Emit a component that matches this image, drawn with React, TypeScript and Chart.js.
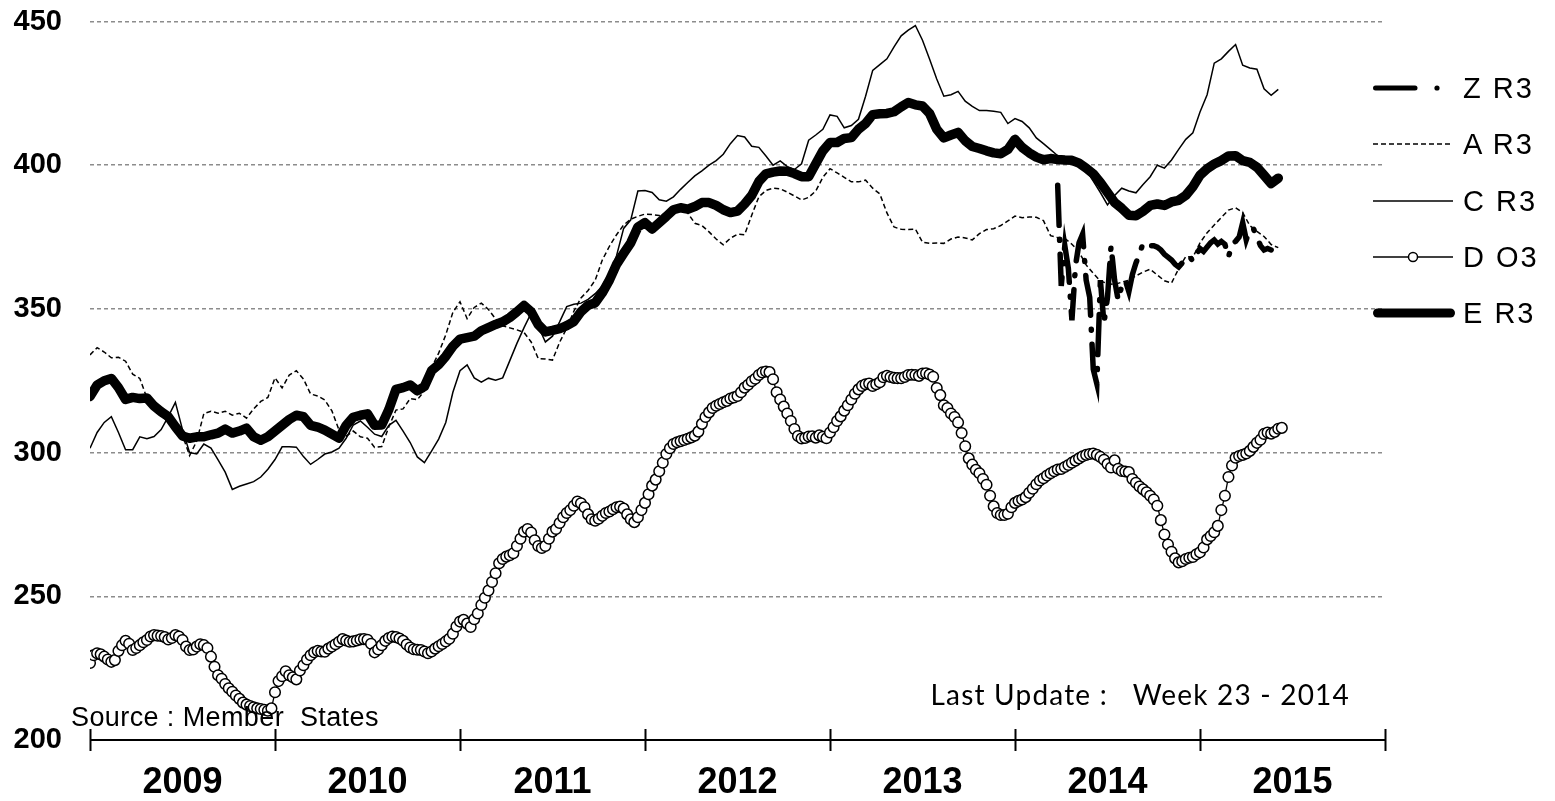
import React, { useEffect, useRef } from 'react';
import { Chart, registerables } from 'chart.js';

Chart.register(...registerables);

// ---------- data ----------
const YEAR_LABELS = ['2009', '2010', '2011', '2012', '2013', '2014', '2015'];
const WEEKS_PER_YEAR = 52;
const Y_TICKS = [200, 250, 300, 350, 400, 450];
const LINE_STEP_WEEKS = 2; // E R3, C R3, A R3 sampled every 2 weeks
const Z_START_WEEK = 272;

const E_R3 = [
  319.5, 323.5, 325, 325.8, 322.6, 318.5, 319.2, 318.8, 319, 316.2, 314.2, 312.5,
  309, 305.8, 305, 305.5, 305.5, 306.2, 306.8, 308.2, 306.8, 307.5, 308.5, 305.5,
  304.3, 305.5, 307.5, 309.5, 311.5, 313, 312.5, 309.5, 308.9, 307.8, 306.4, 305,
  309.5, 312.3, 313, 313.5, 309.5, 309.6, 315, 322, 322.6, 323.5, 321.5, 323,
  328.5, 330.6, 333.5, 337, 339.5, 340, 340.5, 342.4, 343.5, 344.6, 345.5, 347,
  349, 351.2, 349, 344.5, 342, 342.5, 343.1, 344.2, 345.6, 349, 351.3, 352.1,
  355.6, 360, 365.5, 369.3, 373, 378.5, 380, 377.8, 380, 382.2, 384.5, 385.2,
  384.7, 385.6, 387, 387, 386, 384.5, 383.5, 384, 386.5, 389.5, 394.3, 397,
  397.6, 398, 397.9, 397.1, 396, 396, 400.5, 405, 407.9, 407.9, 409.3, 409.6,
  412.5, 414.5, 417.6, 417.9, 418, 418.6, 420.3, 421.8, 421, 420.6, 418, 412.5,
  409.5, 410.5, 411.4, 408.5, 406.5, 405.8, 405, 404.3, 404, 405.5, 409, 406.2,
  404.3, 402.8, 401.9, 402.3, 402, 401.8, 401.7, 400.7, 399, 397, 394, 390.5,
  387, 385, 382.6, 382.4, 384, 386, 386.5, 386, 387.2, 387.8, 389.5, 392.5,
  396.5, 398.8, 400.4, 401.6, 403.2, 403.3, 401.6, 401, 399.3, 396.5, 393.6, 395.5,
];

const C_R3 = [
  301.5, 307, 310.5, 312.5, 307, 301, 301, 305.5, 304.8, 305.6, 308, 312.5,
  317.5, 308, 300, 299.5, 303, 301.6, 297.5, 293.2, 287.2, 288.3, 289.1, 289.9,
  291.5, 294.2, 297.6, 302, 302, 301.9, 298.6, 295.9, 297.6, 299.5, 300.2, 301.5,
  305, 309.6, 311, 308.8, 306.4, 305.6, 309.5, 311.2, 307.5, 303.5, 298.5, 296.5,
  300.5, 304.7, 310.5, 321, 328.5, 330.5, 326, 324.5, 325.9, 325.2, 326, 332,
  338, 343.5, 348.5, 344, 338.5, 340.5, 345.5, 350.8, 351.6, 352, 353.3, 355.3,
  358, 362.5, 368.5, 378, 381, 391, 391.2, 390.5, 388, 387.5, 389, 391.6,
  394, 396.3, 398, 400, 401.6, 403.8, 407.5, 410.3, 409.8, 406.6, 406.2, 403.2,
  400, 401.5, 399.5, 398.5, 400.5, 408.7, 410.5, 412.5, 417.5, 417, 413, 413.8,
  416, 424, 433, 435, 437, 441.2, 445, 447, 448.6, 443.5, 436.9, 430,
  424, 424.5, 425.7, 422.3, 420.5, 419, 419, 418.8, 418.4, 414.5, 416.2, 415.2,
  413, 409.5, 407.5, 405.4, 403.3, 402, 401.8, 400, 398.3, 394.5, 390.5, 386.2,
  389.5, 392, 391, 390.4, 393.3, 396, 400, 399, 401.8, 405.5, 409, 411.3,
  418.5, 424.5, 435.5, 437, 439.6, 442, 434.8, 433.8, 433.4, 426.6, 424.3, 426.4,
];

const A_R3 = [
  334, 336.5, 335, 333, 333.2, 331.8, 327.3, 325.8, 319, 316.8, 313.3, 310.4,
  309.5, 306, 299, 304, 313.6, 314.4, 313.7, 314.4, 313, 313.7, 312, 315.2,
  317.8, 319.2, 326, 322.5, 327, 328.5, 325.6, 320.4, 319.7, 318.3, 314.5, 307.8,
  305.7, 307.5, 305.5, 305, 301.8, 302.1, 309, 314.8, 315.2, 318.8, 318.4, 321.5,
  329.5, 334.6, 341, 348.8, 352.5, 346.6, 350.5, 352, 349.8, 346.5, 344.1, 343.4,
  342.7, 341.8, 338.5, 332.7, 332.6, 332.2, 338.4, 343.3, 349.2, 353.8, 356.4, 360,
  367, 371.8, 375.8, 379.2, 381.2, 382.2, 383, 382.8, 382.5, 382, 383.4, 384.6,
  383.4, 379.8, 379, 376.8, 374.3, 372.3, 374.6, 376, 375.8, 382.6, 389, 391.2,
  392, 391.8, 390.6, 389.3, 387.9, 388.8, 391, 395.8, 398.8, 397.3, 395.8, 394.2,
  394.2, 394.8, 392, 390, 383.4, 378.5, 377.7, 377.6, 377.8, 373.2, 372.8, 372.9,
  372.8, 374.3, 375, 374.7, 374, 376.2, 377.6, 377.9, 379, 380.6, 382.3, 381.7,
  382, 381.9, 380.7, 375.5, 374.8, 374.5, 372.5, 369.8, 365.3, 362.4, 359.7, 358.8,
  358.5, 359.3, 360, 361.5, 362.8, 363.8, 361.8, 359.8, 359, 364, 368.2, 368,
  373, 376.5, 379.2, 381.8, 384.4, 385.2, 383.5, 379, 377, 375.2, 372.4, 371.3,
];

// weekly values
const D_O3 = [
  226.8, 229.5, 230.2, 229.8, 229, 228, 227.2, 227.8, 231, 233, 234.5, 233.5, 231.3,
  232, 233, 234, 234.8, 236, 236.5, 236.3, 236.2, 235.8, 235, 235.5, 236.5, 236,
  234.8, 232.5, 231.3, 231.5, 232.5, 233.3, 233, 232, 229, 225.5, 222.5, 221.3, 219.5,
  218, 216.8, 215.5, 214.3, 213, 212.3, 211.8, 211.4, 211, 210.8, 210.5, 210.2, 211,
  216.6, 220.5, 222.2, 223.9, 222.5, 221.8, 221.1, 224.2, 226, 228, 229.5, 230.5, 231,
  230.8, 230.7, 231.8, 232.5, 233.3, 234.2, 235.1, 234.6, 234.2, 234.3, 234.6, 235, 235.1,
  234.9, 233.5, 230.5, 231.5, 233, 234.5, 235.5, 236, 235.8, 235.3, 234.5, 233.2, 232.2,
  231.6, 231.4, 231.3, 230.8, 230.2, 230.8, 231.8, 232.6, 233.4, 234.3, 235.2, 237, 239.5,
  241.2, 241.8, 240.5, 239.3, 242, 244, 247, 249.5, 252, 255, 258, 261.5, 263,
  263.8, 264.3, 265, 267.5, 270, 272.5, 273.4, 272.2, 269.5, 267.5, 266.8, 267.5, 270,
  272.5, 273.4, 275.5, 277.5, 279, 280, 281.5, 283, 282.4, 281, 278.5, 276.8, 276.3,
  277, 278, 279, 279.5, 280.3, 281, 281.2, 280.5, 278.5, 276.8, 275.8, 277.5, 280,
  282.5, 285.5, 288.5, 290.6, 293.5, 296.5, 299.5, 301.5, 303, 303.6, 304, 304.4, 304.8,
  305.3, 305.9, 307.3, 310, 312.4, 314, 315.5, 316.3, 316.9, 317.5, 318, 318.8, 319.2,
  319.7, 321, 322.6, 323.6, 324.8, 325.7, 327, 327.9, 328.2, 328, 325.5, 321, 318.5,
  316, 313.6, 311, 308.2, 305.8, 304.9, 305.1, 305.6, 305.7, 305.2, 306, 305.5, 305,
  307, 308.8, 311, 312.6, 314.6, 316.5, 318.5, 320.5, 322, 323.2, 323.8, 324, 323.2,
  323.8, 324.5, 326.2, 326.7, 326.3, 326, 325.9, 325.9, 326.3, 327, 327.1, 327, 326.7,
  327.5, 327.6, 327.2, 326.4, 322.5, 320, 316.5, 315.5, 313.6, 312.4, 310.5, 306.8, 302.2,
  298, 295.8, 294, 292.8, 290.8, 288.8, 285, 281.3, 279, 278.3, 278.3, 278.7, 281,
  282.5, 283.2, 283.7, 284.5, 286, 287.4, 289, 290.3, 291.1, 292, 292.8, 293.5, 294.1,
  294.3, 295, 295.7, 296.5, 297.2, 298, 298.7, 299.2, 299.5, 299.7, 299.2, 298.5, 297.5,
  296, 294.8, 297.3, 294.4, 293.6, 293.4, 293.2, 290.8, 289.5, 288.2, 287.2, 286.2, 285,
  283.7, 281.5, 276.5, 271.5, 268, 265.5, 263.2, 261.8, 262.2, 263, 263.4, 263.7, 264.6,
  265.3, 267, 269.8, 271, 272.3, 274.5, 280, 285, 291.5, 295.5, 298.2, 298.8, 299.2,
  299.7, 300.6, 302, 303.4, 304.5, 306.5, 307, 306.6, 307.2, 308.3, 308.6,
];

// weekly values starting at Z_START_WEEK
const Z_R3 = [
  393, 358, 372, 364, 346, 365, 373, 376, 360, 354, 329, 324, 360, 345, 354, 372,
  360, 353, 358, 360, 356, 362, 366, 369, 373, 373, 372, 372, 371.5, 370.5, 369, 368,
  367, 365.5, 364.6, 366, 367.4, 368.5, 366.5, 369, 371, 370, 371.5, 373, 374, 372.6,
  373.5, 372.5, 368, 372.6, 373.5, 375, 380, 374, 377.5, 378, 375, 372, 370.5, 371, 370.5,
];

const SOURCE_NOTE = 'Source : Member  States';
const UPDATE_NOTE = 'Last Update :   Week 23 - 2014';

// ---------- helpers ----------
const FONT = '"Liberation Sans", Arial, Helvetica, sans-serif';

function toPoints(values: number[], step: number, start = 0) {
  return values.map((v, i) => ({ x: start + i * step, y: v }));
}

const yearAxisPlugin = {
  id: 'yearAxis',
  afterDraw(chart: any) {
    const { ctx } = chart;
    const xs = chart.scales.x;
    const ys = chart.scales.y;
    const y0 = ys.getPixelForValue(Y_TICKS[0]);
    const totalWeeks = YEAR_LABELS.length * WEEKS_PER_YEAR;
    ctx.save();
    ctx.strokeStyle = '#000';
    ctx.lineWidth = 2;
    ctx.beginPath();
    ctx.moveTo(xs.getPixelForValue(0), y0);
    ctx.lineTo(xs.getPixelForValue(totalWeeks), y0);
    for (let i = 0; i <= YEAR_LABELS.length; i++) {
      const px = Math.round(xs.getPixelForValue(i * WEEKS_PER_YEAR)) + 0.5;
      ctx.moveTo(px, y0 - 11);
      ctx.lineTo(px, y0 + 11);
    }
    ctx.stroke();
    ctx.restore();
  },
};

type LegendKind = 'dashdot' | 'dashed' | 'solid' | 'marker' | 'thick';
const LEGEND_ITEMS: { label: string; kind: LegendKind; y: number }[] = [
  { label: 'Z R3', kind: 'dashdot', y: 88 },
  { label: 'A R3', kind: 'dashed', y: 144 },
  { label: 'C R3', kind: 'solid', y: 201 },
  { label: 'D O3', kind: 'marker', y: 257 },
  { label: 'E R3', kind: 'thick', y: 313 },
];

function LegendSample({ kind }: { kind: LegendKind }) {
  return (
    <svg width={82} height={20} style={{ display: 'block', overflow: 'visible' }}>
      {kind === 'dashdot' && (
        <g>
          <line x1={2.5} y1={10} x2={42} y2={10} stroke="#000" strokeWidth={5} strokeLinecap="round" />
          <circle cx={64} cy={10} r={2.6} fill="#000" />
        </g>
      )}
      {kind === 'dashed' && (
        <line x1={0} y1={10} x2={80} y2={10} stroke="#000" strokeWidth={1.5} strokeDasharray="5 3" />
      )}
      {kind === 'solid' && <line x1={0} y1={10} x2={80} y2={10} stroke="#000" strokeWidth={1.5} />}
      {kind === 'marker' && (
        <g>
          <line x1={0} y1={10} x2={80} y2={10} stroke="#000" strokeWidth={1.5} />
          <circle cx={40} cy={10} r={4.5} fill="#fff" stroke="#000" strokeWidth={1.5} />
        </g>
      )}
      {kind === 'thick' && (
        <line x1={4.5} y1={10} x2={77.5} y2={10} stroke="#000" strokeWidth={9} strokeLinecap="round" />
      )}
    </svg>
  );
}

export default function App() {
  const canvasRef = useRef<HTMLCanvasElement>(null);

  useEffect(() => {
    if (!canvasRef.current) return;
    const chart = new Chart(canvasRef.current, {
      type: 'line',
      data: {
        datasets: [
          {
            label: 'Z R3',
            data: toPoints(Z_R3, 1, Z_START_WEEK),
            borderColor: '#000',
            backgroundColor: '#000',
            borderWidth: 5.5,
            borderDash: [40, 14, 1, 14],
            borderCapStyle: 'round',
            pointRadius: 0,
            tension: 0,
            order: 0,
          },
          {
            label: 'E R3',
            data: toPoints(E_R3, LINE_STEP_WEEKS),
            borderColor: '#000',
            backgroundColor: '#000',
            borderWidth: 9.5,
            borderCapStyle: 'round',
            borderJoinStyle: 'round',
            pointRadius: 0,
            tension: 0,
            order: 1,
          },
          {
            label: 'D O3',
            data: toPoints(D_O3, 1),
            borderColor: '#000',
            backgroundColor: '#fff',
            borderWidth: 1.3,
            pointRadius: 5.3,
            pointBorderWidth: 1.5,
            pointBackgroundColor: '#fff',
            pointBorderColor: '#000',
            tension: 0,
            order: 2,
          },
          {
            label: 'C R3',
            data: toPoints(C_R3, LINE_STEP_WEEKS),
            borderColor: '#000',
            backgroundColor: '#000',
            borderWidth: 1.5,
            pointRadius: 0,
            tension: 0,
            order: 3,
          },
          {
            label: 'A R3',
            data: toPoints(A_R3, LINE_STEP_WEEKS),
            borderColor: '#000',
            backgroundColor: '#000',
            borderWidth: 1.5,
            borderDash: [5, 3],
            pointRadius: 0,
            tension: 0,
            order: 4,
          },
        ],
      },
      options: {
        responsive: false,
        animation: false,
        events: [],
        layout: { padding: { top: 21.5, right: 170, left: 0, bottom: 0 } },
        plugins: {
          legend: { display: false },
          tooltip: { enabled: false },
          title: { display: false },
        },
        scales: {
          x: {
            type: 'linear',
            min: 0,
            max: YEAR_LABELS.length * WEEKS_PER_YEAR,
            grid: { display: false, drawTicks: false },
            border: { display: false },
            afterBuildTicks: (scale: any) => {
              scale.ticks = YEAR_LABELS.map((_, i) => ({ value: i * WEEKS_PER_YEAR + WEEKS_PER_YEAR / 2 }));
            },
            afterFit: (scale: any) => {
              scale.height = 61;
              scale.paddingLeft = 0;
              scale.paddingRight = 0;
            },
            ticks: {
              autoSkip: false,
              maxRotation: 0,
              padding: 21,
              color: '#000',
              font: { family: FONT, size: 36, weight: 'bold' },
              callback: (_v: any, i: number) => YEAR_LABELS[i] ?? '',
            },
          },
          y: {
            min: Y_TICKS[0],
            max: Y_TICKS[Y_TICKS.length - 1],
            afterBuildTicks: (scale: any) => {
              scale.ticks = Y_TICKS.map((v) => ({ value: v }));
            },
            afterFit: (scale: any) => {
              scale.width = 90;
              scale.paddingTop = 0;
              scale.paddingBottom = 0;
            },
            grid: { color: '#8c8c8c', lineWidth: 1.5, drawTicks: false },
            border: { display: false, dash: [4, 3] },
            ticks: {
              padding: 28,
              color: '#000',
              font: { family: FONT, size: 29, weight: 'bold' },
            },
          },
        },
      } as any,
      plugins: [yearAxisPlugin],
    });
    return () => chart.destroy();
  }, []);

  return (
    <div
      style={{
        position: 'fixed',
        left: 0,
        top: 0,
        width: 1555,
        height: 801,
        background: '#fff',
        overflow: 'hidden',
      }}
    >
      <canvas
        ref={canvasRef}
        width={1555}
        height={801}
        style={{ position: 'absolute', left: 0, top: 0, width: 1555, height: 801 }}
      />
      <div
        style={{
          position: 'absolute',
          left: 71,
          top: 704,
          fontFamily: FONT,
          fontSize: 27,
          lineHeight: '27px',
          letterSpacing: 0.4,
          whiteSpace: 'pre',
          color: '#000',
        }}
      >
        {SOURCE_NOTE}
      </div>
      <div
        style={{
          position: 'absolute',
          right: 205,
          top: 680,
          fontFamily: 'Lato, "Open Sans", sans-serif',
          fontSize: 28,
          lineHeight: '28px',
          letterSpacing: 1.2,
          whiteSpace: 'pre',
          textAlign: 'right',
          color: '#000',
        }}
      >
        {UPDATE_NOTE}
      </div>
      {LEGEND_ITEMS.map((item) => (
        <div
          key={item.label}
          style={{
            position: 'absolute',
            left: 1373,
            top: item.y - 15,
            height: 30,
            display: 'flex',
            alignItems: 'center',
          }}
        >
          <LegendSample kind={item.kind} />
          <span
            style={{
              marginLeft: 8,
              fontFamily: FONT,
              fontSize: 29,
              lineHeight: '29px',
              letterSpacing: 2,
              whiteSpace: 'pre',
              color: '#000',
            }}
          >
            {item.label}
          </span>
        </div>
      ))}
    </div>
  );
}
